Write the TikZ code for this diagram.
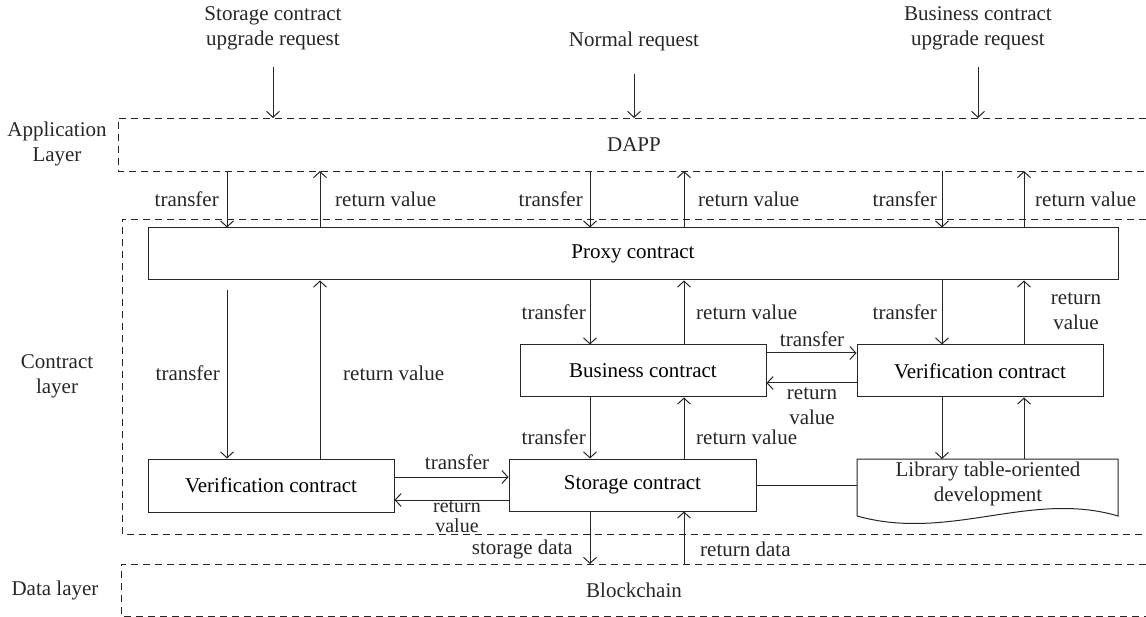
\documentclass[tikz,border=0pt]{standalone}
\usepackage{fontspec}
\setmainfont{Liberation Serif}
\usetikzlibrary{arrows.meta}
\begin{document}
\begin{tikzpicture}[x=1pt,y=-1pt,
  font=\fontsize{21}{25}\selectfont,
  arr/.style={-{Straight Barb[length=6pt,width=13pt,line width=1pt]}, line width=1pt, draw=black!85},
  box/.style={draw=black!85, line width=1pt, minimum height=52pt, inner sep=0pt},
  layer/.style={draw=black!85, dash pattern=on 7pt off 5pt, line width=0.9pt},
  lbl/.style={inner sep=0pt, align=center, text=black!85}]
\useasboundingbox (0,0) rectangle (1146,617);

% layers
\draw[layer] (1146,118) -- (118,118) -- (118,171) -- (1146,171);
\draw[layer] (1146,219) -- (122,219) -- (122,534) -- (1146,534);
\draw[layer] (1146,564) -- (121,564) -- (121,616) -- (1146,616);
\node[lbl] (lapp) at (57,144) {Application\\Layer};
\node[lbl] (lcon) at (57,376) {Contract\\layer};
\node[lbl] (ldat) at (55,590) {Data layer};

% helper coordinates
\coordinate (xa) at (227,0); \coordinate (xb) at (320,0);
\coordinate (xc) at (590,0); \coordinate (xd) at (684,0);
\coordinate (xe) at (942,0); \coordinate (xf) at (1024,0);
\coordinate (appT) at (0,118); \coordinate (appB) at (0,171);
\coordinate (dataT) at (0,564);
\coordinate (y477) at (0,477); \coordinate (y500) at (0,500);
\coordinate (y353) at (0,353); \coordinate (y383) at (0,383);

% requests
\node[lbl] (req1) at (273,28) {Storage contract\\upgrade request};
\node[lbl] (req2) at (634,41) {Normal request};
\node[lbl] (req3) at (978,28) {Business contract\\upgrade request};
\coordinate (r1) at (273,67); \coordinate (r2) at (634,74); \coordinate (r3) at (978,67);
\draw[arr] (r1) -- (r1 |- appT);
\draw[arr] (r2) -- (r2 |- appT);
\draw[arr] (r3) -- (r3 |- appT);
\node[lbl] (dapp) at (634,145) {DAPP};

% boxes
\node[box, minimum width=970pt] (proxy) at (633,254) {Proxy contract};
\node[box, minimum width=246pt] (biz) at (643,371) {Business contract};
\node[box, minimum width=246pt] (verR) at (980,371) {Verification contract};
\node[box, minimum width=246pt, minimum height=53pt] (verL) at (271,485.5) {Verification contract};
\node[box, minimum width=247pt] (stor) at (632.5,485) {Storage contract};
\node[lbl] (lib) at (988,483.5) {Library table-oriented\\development};
\coordinate (libNW) at (857,459); \coordinate (libNE) at (1118,459);
\coordinate (libSW) at (857,516); \coordinate (libSE) at (1118,516);
\draw[draw=black!85, line width=1pt] (libSW) -- (libNW) -- (libNE) -- (libSE)
  .. controls (1030,490) and (950,542) .. (libSW);
\node[lbl] (bc) at (634,590) {Blockchain};

% DAPP <-> proxy
\draw[arr] (xa |- appB) -- (xa |- proxy.north);
\draw[arr] (xb |- proxy.north) -- (xb |- appB);
\draw[arr] (xc |- appB) -- (xc |- proxy.north);
\draw[arr] (xd |- proxy.north) -- (xd |- appB);
\draw[arr] (xe |- appB) -- (xe |- proxy.north);
\draw[arr] (xf |- proxy.north) -- (xf |- appB);
\node[lbl, anchor=east] (t1) at (219,199) {transfer};
\node[lbl, anchor=west] (v1) at (335,199) {return value};
\node[lbl, anchor=east] (t2) at (583,199) {transfer};
\node[lbl, anchor=west] (v2) at (698,199) {return value};
\node[lbl, anchor=east] (t3) at (937,199) {transfer};
\node[lbl, anchor=west] (v3) at (1035,199) {return value};

% proxy <-> left verification
\coordinate (lvs) at (227,290);
\draw[arr] (lvs) -- (xa |- verL.north);
\draw[arr] (xb |- verL.north) -- (xb |- proxy.south);
\node[lbl, anchor=east] (t4) at (220,373) {transfer};
\node[lbl, anchor=west] (v4) at (343,373) {return value};

% proxy <-> business
\draw[arr] (xc |- proxy.south) -- (xc |- biz.north);
\draw[arr] (xd |- biz.north) -- (xd |- proxy.south);
\node[lbl, anchor=east] (t5) at (586,312) {transfer};
\node[lbl, anchor=west] (v5) at (696,312) {return value};

% proxy <-> right verification
\draw[arr] (xe |- proxy.south) -- (xe |- verR.north);
\draw[arr] (xf |- verR.north) -- (xf |- proxy.south);
\node[lbl, anchor=east] (t6) at (937,312) {transfer};
\node[lbl] (v6) at (1076,311.5) {return\\value};

% business <-> right verification
\draw[arr] (biz.east |- y353) -- (verR.west |- y353);
\draw[arr] (verR.west |- y383) -- (biz.east |- y383);
\node[lbl] (t7) at (812,339) {transfer};
\node[lbl] (v7) at (812,406) {return\\value};

% business <-> storage
\draw[arr] (xc |- biz.south) -- (xc |- stor.north);
\draw[arr] (xd |- stor.north) -- (xd |- biz.south);
\node[lbl, anchor=east] (t8) at (586,437) {transfer};
\node[lbl, anchor=west] (v8) at (696,437) {return value};

% right verification <-> library
\draw[arr] (xe |- verR.south) -- (xe |- libNW);
\draw[arr] (xf |- libNW) -- (xf |- verR.south);

% left verification <-> storage
\draw[arr] (verL.east |- y477) -- (stor.west |- y477);
\draw[arr] (stor.west |- y500) -- (verL.east |- y500);
\node[lbl] (t9) at (457,462) {transfer};
\node[lbl, font=\fontsize{20}{19.5}\selectfont] (v9) at (457,517) {return\\value};

% storage -- library
\draw[draw=black!85, line width=1pt] (stor.east) -- (stor.east -| libNW);

% storage <-> blockchain
\draw[arr] (xc |- stor.south) -- (xc |- dataT);
\draw[arr] (xd |- dataT) -- (xd |- stor.south);
\node[lbl, anchor=east] (t10) at (573,549) {storage data};
\node[lbl, anchor=west] (v10) at (700,549) {return data};
\end{tikzpicture}
\end{document}
